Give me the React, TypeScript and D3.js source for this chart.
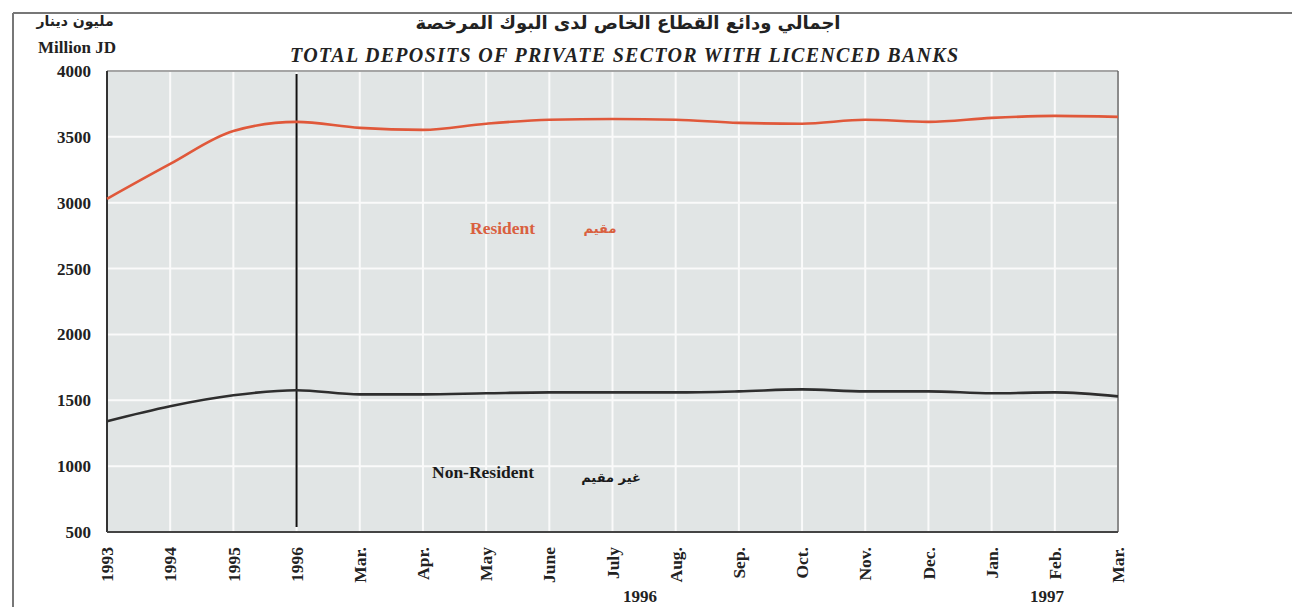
import React from "react";
import * as d3 from "d3";

const categories = ["1993", "1994", "1995", "1996", "Mar.", "Apr.", "May", "June", "July", "Aug.", "Sep.", "Oct.", "Nov.", "Dec.", "Jan.", "Feb.", "Mar. "];
const residentValues = [3030, 3295, 3545, 3614, 3568, 3553, 3600, 3630, 3636, 3630, 3606, 3600, 3630, 3614, 3644, 3659, 3652];
const nonResidentValues = [1341, 1455, 1538, 1576, 1545, 1545, 1553, 1560, 1560, 1560, 1568, 1583, 1568, 1568, 1553, 1560, 1530];
const yTicks = [500, 1000, 1500, 2000, 2500, 3000, 3500, 4000];
const markerCategory = "1996";
const yearGroups = ["1996", "1997"];

const W = 1292;
const H = 607;
const M = { left: 107, right: 1118, top: 71, bottom: 532 };

export default function App() {
  const x = d3.scalePoint<string>().domain(categories).range([M.left, M.right]);
  const y = d3.scaleLinear().domain([500, 4000]).range([M.bottom, M.top]);
  const line = d3
    .line<number>()
    .x((_, i) => x(categories[i]) as number)
    .y((d) => y(d))
    .curve(d3.curveMonotoneX);

  const serif = "'Liberation Serif', 'Times New Roman', serif";
  const arabic = "'DejaVu Sans', sans-serif";
  const yearX = [640, 1047];

  return (
    <svg width={W} height={H} style={{ position: "absolute", left: 0, top: 0, background: "#fff" }}>
      <line x1={13} y1={13} x2={W} y2={13} stroke="#777" strokeWidth={2} />
      <line x1={13} y1={13} x2={13} y2={H} stroke="#777" strokeWidth={2} />

      <text x={628} y={29} textAnchor="middle" fontFamily={arabic} fontWeight="bold" fontSize={18} fill="#222" direction="rtl">
        اجمالي ودائع القطاع الخاص لدى البوك المرخصة
      </text>
      <text x={624} y={62} textAnchor="middle" fontFamily={serif} fontWeight="bold" fontStyle="italic" fontSize={20} fill="#222" textLength={668} lengthAdjust="spacing">
        TOTAL DEPOSITS OF PRIVATE SECTOR WITH LICENCED BANKS
      </text>

      <text x={75} y={26} textAnchor="middle" fontFamily={arabic} fontWeight="bold" fontSize={14} fill="#222" direction="rtl">
        مليون دينار
      </text>
      <text x={77} y={53} textAnchor="middle" fontFamily={serif} fontWeight="bold" fontSize={17} fill="#222">
        Million JD
      </text>

      <rect x={M.left} y={M.top} width={M.right - M.left} height={M.bottom - M.top} fill="#e1e5e5" />

      {yTicks.map((t) => (
        <line key={"h" + t} x1={M.left} x2={M.right} y1={y(t)} y2={y(t)} stroke="#fafafa" strokeWidth={2} />
      ))}
      {categories.map((c) => (
        <line key={"v" + c} x1={x(c)} x2={x(c)} y1={M.top} y2={M.bottom} stroke="#fafafa" strokeWidth={2} />
      ))}

      <line x1={M.left} x2={M.right} y1={M.top} y2={M.top} stroke="#888" strokeWidth={1.5} />
      <line x1={M.right} x2={M.right} y1={M.top} y2={M.bottom} stroke="#666" strokeWidth={1.5} />
      <line x1={M.left} x2={M.left} y1={M.top} y2={M.bottom} stroke="#333" strokeWidth={2} />
      <line x1={M.left} x2={M.right} y1={M.bottom} y2={M.bottom} stroke="#444" strokeWidth={2} />

      <line x1={x(markerCategory)} x2={x(markerCategory)} y1={M.top + 3} y2={M.bottom - 5} stroke="#111" strokeWidth={2} />

      <path d={line(residentValues) || ""} fill="none" stroke="#e0583a" strokeWidth={2.6} />
      <path d={line(nonResidentValues) || ""} fill="none" stroke="#2e2e2e" strokeWidth={2.6} />

      <text x={470} y={234} fontFamily={serif} fontWeight="bold" fontSize={17.5} fill="#d9603f">Resident</text>
      <text x={600} y={233} textAnchor="middle" fontFamily={arabic} fontWeight="bold" fontSize={13} fill="#d9603f" direction="rtl">مقيم</text>
      <text x={432} y={478} fontFamily={serif} fontWeight="bold" fontSize={17.5} fill="#1a1a1a">Non-Resident</text>
      <text x={611} y={482} textAnchor="middle" fontFamily={arabic} fontWeight="bold" fontSize={13} fill="#1a1a1a" direction="rtl">غير مقيم</text>

      {yTicks.map((t) => (
        <text key={"yt" + t} x={91} y={y(t)} dy="0.35em" textAnchor="end" fontFamily={serif} fontWeight="bold" fontSize={17} fill="#222">
          {t}
        </text>
      ))}

      {categories.map((c) => (
        <text
          key={"xt" + c}
          transform={`translate(${x(c)},${547}) rotate(-90)`}
          dy="0.35em"
          textAnchor="end"
          fontFamily={serif}
          fontWeight="bold"
          fontSize={17.5}
          fill="#222"
        >
          {c.trim()}
        </text>
      ))}

      {yearGroups.map((g, i) => (
        <text key={g} x={yearX[i]} y={602} textAnchor="middle" fontFamily={serif} fontWeight="bold" fontSize={17} fill="#222">
          {g}
        </text>
      ))}
    </svg>
  );
}
